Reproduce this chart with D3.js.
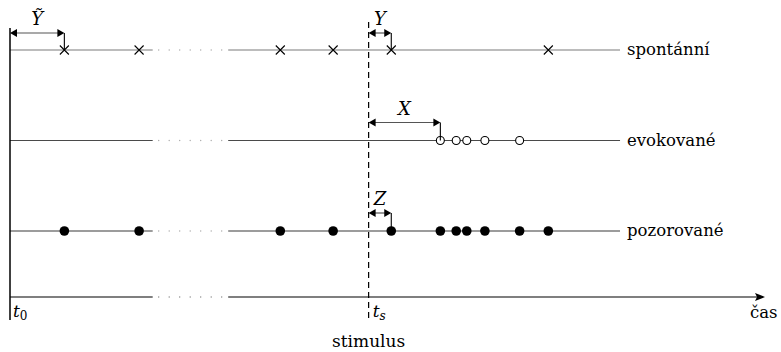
<!DOCTYPE html>
<html>
<head>
<meta charset="utf-8">
<script src="https://cdn.jsdelivr.net/npm/d3@7"></script>
<style>
  html, body { margin: 0; padding: 0; background: #fff; }
</style>
</head>
<body>
<svg id="chart" width="781" height="352"></svg>
<script>
// Time of each event (arbitrary units; t0 = 0)
const spontaneous = [7.2, 17.1, 35.8, 42.8, 50.5, 71.3];
const evoked = [57.0, 59.1, 60.5, 62.9, 67.5];
const observed = spontaneous.concat(evoked).sort((a, b) => a - b);
const stimulusTime = 47.5;
const gapStart = 18.9, gapEnd = 28.9;   // elided stretch of time
const lineEnd = 80.8;
const rowNames = ["spontánní", "evokované", "pozorované"];

const FONT = '"DejaVu Serif", "Liberation Serif", serif';
const svg = d3.select("#chart");
const x = d3.scaleLinear().domain([0, 100]).range([10, 765]);
const y = d3.scalePoint().domain(rowNames).range([50, 231]);
const axisY = 297;

function label(xx, yy, size) {
  return svg.append("text").attr("x", xx).attr("y", yy)
    .style("font-family", FONT).style("font-size", size + "px");
}

// Dotted filler for the elided stretch
function gapDots(yy, color) {
  const xs = d3.range(x(gapStart) + 6, x(gapEnd) - 2, 10.5);
  svg.append("g").selectAll("circle").data(xs).join("circle")
    .attr("cx", d => d).attr("cy", yy).attr("r", 0.7).attr("fill", color);
}

// Row baselines
const rowColor = { "spontánní": "#7a7a7a", "evokované": "#4a4a4a", "pozorované": "#3a3a3a" };
rowNames.forEach(r => {
  svg.append("line").attr("x1", x(0)).attr("x2", x(gapStart))
    .attr("y1", y(r)).attr("y2", y(r)).attr("stroke", rowColor[r]).attr("stroke-width", 1.2);
  svg.append("line").attr("x1", x(gapEnd)).attr("x2", x(lineEnd))
    .attr("y1", y(r)).attr("y2", y(r)).attr("stroke", rowColor[r]).attr("stroke-width", 1.2);
  gapDots(y(r), "#aaa");
  label(x(lineEnd) + 7, y(r) + 5, 16.5).text(r);
});

// Time axis
svg.append("line").attr("x1", x(0)).attr("x2", x(gapStart))
  .attr("y1", axisY).attr("y2", axisY).attr("stroke", "#000").attr("stroke-width", 1.2);
svg.append("line").attr("x1", x(gapEnd)).attr("x2", x(100) - 8)
  .attr("y1", axisY).attr("y2", axisY).attr("stroke", "#000").attr("stroke-width", 1.2);
gapDots(axisY, "#888");
svg.append("path")
  .attr("d", `M${x(100)},${axisY} l-10,-4 l2,4 l-2,4 z`).attr("fill", "#000");
svg.append("line").attr("x1", x(0)).attr("x2", x(0)).attr("y1", 28).attr("y2", 320)
  .attr("stroke", "#000").attr("stroke-width", 1.5);

// Stimulus marker
svg.append("line").attr("x1", x(stimulusTime)).attr("x2", x(stimulusTime))
  .attr("y1", 22).attr("y2", 322).attr("stroke", "#000").attr("stroke-width", 1.2)
  .attr("stroke-dasharray", "6,4");

// Axis labels
const t0 = label(x(0) + 3, 317, 17).style("font-style", "italic");
t0.append("tspan").text("t");
t0.append("tspan").style("font-style", "normal").style("font-size", "12px").attr("dy", 3).text("0");
const ts = label(x(stimulusTime) + 4, 317, 17).style("font-style", "italic");
ts.append("tspan").text("t");
ts.append("tspan").style("font-size", "12px").attr("dy", 3).text("s");
label(x(stimulusTime), 347, 17).attr("text-anchor", "middle").text("stimulus");
label(750, 318, 16.5).text("čas");

// Spontaneous events: crosses
svg.append("g").selectAll("path").data(spontaneous).join("path")
  .attr("d", d => `M${x(d) - 4.5},${y("spontánní") - 4.5} l9,9 M${x(d) - 4.5},${y("spontánní") + 4.5} l9,-9`)
  .attr("stroke", "#000").attr("stroke-width", 1.1).attr("fill", "none");

// Evoked events: open circles
svg.append("g").selectAll("circle").data(evoked).join("circle")
  .attr("cx", d => x(d)).attr("cy", y("evokované")).attr("r", 4)
  .attr("fill", "#fff").attr("stroke", "#000").attr("stroke-width", 1.1);

// Observed events: filled circles
svg.append("g").selectAll("circle").data(observed).join("circle")
  .attr("cx", d => x(d)).attr("cy", y("pozorované")).attr("r", 4.8).attr("fill", "#000");

// Interval arrows
function interval(from, to, row, offset, text) {
  const yy = y(row) - offset;
  const x1 = x(from), x2 = x(to);
  svg.append("line").attr("x1", x2).attr("x2", x2).attr("y1", yy).attr("y2", y(row))
    .attr("stroke", "#000").attr("stroke-width", 1.1);
  svg.append("line").attr("x1", x1 + 6).attr("x2", x2 - 6).attr("y1", yy).attr("y2", yy)
    .attr("stroke", "#555").attr("stroke-width", 1.2);
  svg.append("path").attr("d", `M${x1},${yy} l7,-4 l0,8 z`).attr("fill", "#000");
  svg.append("path").attr("d", `M${x2},${yy} l-7,-4 l0,8 z`).attr("fill", "#000");
  label((x1 + x2) / 2, yy - 8, 18).attr("text-anchor", "middle")
    .style("font-style", "italic").text(text);
}
interval(0, spontaneous[0], "spontánní", 17, "Ỹ");
interval(stimulusTime, spontaneous[4], "spontánní", 17, "Y");
interval(stimulusTime, evoked[0], "evokované", 18, "X");
interval(stimulusTime, observed[4], "pozorované", 18, "Z");
</script>
</body>
</html>
